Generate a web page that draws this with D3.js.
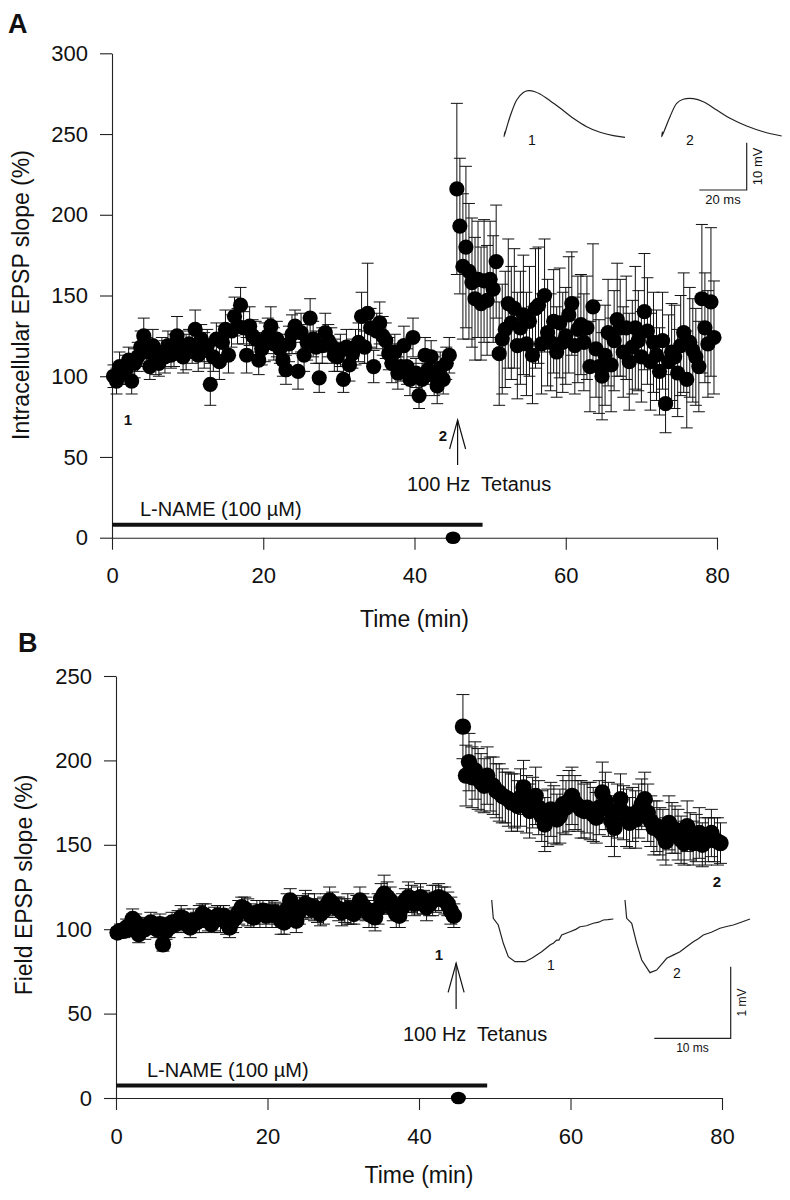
<!DOCTYPE html>
<html><head><meta charset="utf-8">
<script src="https://cdn.jsdelivr.net/npm/d3@7"></script>
<style>
body{margin:0;background:#fff}
svg{display:block}
text{font-family:"Liberation Sans",Arial,Helvetica,sans-serif;fill:#111;white-space:pre}
</style>
</head><body>
<svg id="c" width="790" height="1200"></svg>
<script>
// ---------------- DATA ----------------
const xTicks=[0,20,40,60,80];
const aYTicks=[0,50,100,150,200,250,300];
const bYTicks=[0,50,100,150,200,250];
const sampleStep=0.4;           // minutes between plotted samples
const lnameRange=[0,49];        // L-NAME application (min)

// Panel A: intracellular EPSP slope (%)
const aPreStart=0.2;
const aPreVals=[
100,97,106,102,104,110,97,108,112,118,
125,115,106,119,110,108,115,112,119,113,
116,125,119,112,115,120,118,129,113,123,
116,119,95,112,123,109,121,129,113,128,
137,131,144,130,113,131,125,123,110,117,
121,125,131,120,123,117,110,104,120,126,
131,103,127,113,121,136,123,118,99,119,
127,122,119,113,112,116,98,118,107,114,
118,121,137,118,139,130,106,128,133,125,
122,114,108,115,102,106,119,106,98,124,
102,88,98,113,104,112,100,94,105,98,
108,113];
const aPreErr=[
7,8,9,7,9,8,8,9,9,10,
11,9,8,10,9,8,9,10,9,8,
10,12,9,10,11,9,10,12,10,9,
11,10,13,9,10,11,10,12,11,10,
12,11,11,10,11,12,10,11,9,10,
12,11,12,10,11,9,10,9,11,12,
10,11,12,10,11,12,11,10,9,11,
12,10,11,10,9,10,8,11,10,9,
11,12,15,10,31,12,10,11,13,12,
11,10,12,11,10,9,12,11,10,12,
9,8,10,11,9,10,12,11,10,9,
10,11];
const aPostStart=45.6;
const aPostVals=[
216,193,168,180,165,158,148,160,145,159,
147,160,154,171,114,123,129,145,133,142,
119,130,138,120,134,113,142,144,120,150,
127,121,134,115,133,121,125,138,145,119,
129,132,121,130,106,143,117,106,100,113,
127,107,122,135,130,115,130,109,118,130,
122,112,140,128,109,121,113,103,122,83,
109,115,112,102,119,127,98,121,116,112,
106,148,130,120,146,124];
const aPostErr=[
53,42,45,50,42,40,38,36,35,38,
34,36,33,35,32,34,36,40,35,37,
33,35,37,32,34,30,37,36,31,35,
33,30,32,28,34,31,30,36,32,30,
33,31,30,32,28,39,30,29,27,31,
33,29,31,35,30,28,32,30,29,38,
31,28,36,33,30,31,28,27,30,18,
29,30,32,27,31,37,30,34,32,30,
28,46,34,33,46,35];

// Panel B: field EPSP slope (%)
const bPreStart=0.2;
const bPreVals=[
98,99,99,101,100,106,104,97,101,100,
102,104,102,100,103,91,99,101,104,103,
105,107,106,103,101,105,104,106,109,108,
105,103,106,108,106,108,104,101,105,107,
110,113,112,110,108,107,110,109,111,108,
110,109,110,108,105,104,112,117,110,105,
111,113,115,114,112,113,111,109,111,114,
117,115,113,112,110,111,112,110,109,113,
117,114,112,109,108,107,112,118,121,119,
117,112,109,108,113,117,119,118,115,117,
119,116,113,115,117,118,119,118,117,115,
111,108];
const bPreErr=[
3,4,4,5,4,6,5,5,5,6,
5,6,5,5,6,4,5,6,6,5,
6,7,6,5,6,7,6,8,6,7,
6,5,7,6,8,6,7,6,7,6,
7,6,7,8,7,6,7,8,6,7,
7,8,6,7,8,7,9,7,6,7,
8,7,8,7,6,8,7,7,8,7,
8,7,6,7,8,7,9,7,6,7,
8,7,7,8,7,8,9,9,11,9,
8,7,8,7,8,7,9,8,7,8,
8,7,8,7,9,8,8,7,8,7,
8,7];
const bPostStart=45.8;
const bPostVals=[
220,191,199,190,194,189,187,185,191,186,
185,182,181,179,178,177,175,176,173,178,
184,174,170,175,179,172,167,162,166,171,
168,165,167,174,172,176,179,175,173,171,
170,172,170,168,166,172,181,176,171,164,
160,170,177,169,166,163,168,165,170,174,
177,169,164,160,161,158,156,152,163,160,
159,156,153,151,161,155,151,154,157,150,
152,153,157,153,152,151];
const bPostErr=[
19,18,17,18,17,18,17,16,17,16,
17,16,17,16,15,16,17,16,15,17,
16,17,16,15,17,16,15,16,17,16,
17,15,16,17,16,18,17,16,15,17,
16,15,17,16,15,16,18,17,16,15,
17,16,15,16,17,15,16,17,16,15,
16,17,15,16,15,14,15,14,16,15,
14,15,14,13,15,14,13,14,15,13,
14,13,14,13,14,12];

// Sample traces [ms, mV]
const traceA1=[[0.42,1.18],[0,0.13],[2.53,4.36],[5.36,7.89],[8.02,9.43],[10.25,9.85],[13.08,9.64],[15.19,9.15],[19.41,7.74],[23.63,6.19],[29.24,4.02],[34.89,2.24],[40.51,1.06],[46.12,0.34],[51.05,0]];
const traceA2=[[0.34,1.12],[0,0.06],[3.5,4.29],[6.33,7.12],[9.11,7.97],[13.33,8.10],[17.55,7.46],[23.21,5.71],[28.82,3.95],[35.86,2.33],[42.87,1.12],[50.63,0.21]];
const traceB1=[[0,0],[0.21,-0.256],[0.86,-0.349],[1.52,-0.605],[2.17,-0.792],[3.05,-0.862],[4.36,-0.862],[5.24,-0.814],[6.54,-0.722],[7.63,-0.628],[8.1,-0.60],[8.51,-0.559],[8.8,-0.56],[9.16,-0.489],[10.25,-0.443],[11.0,-0.41],[11.56,-0.373],[12.4,-0.36],[13.30,-0.325],[14.0,-0.31],[14.61,-0.279],[15.2,-0.275],[15.92,-0.265]];
const traceB2=[[0,0],[0.22,-0.256],[0.88,-0.325],[1.53,-0.605],[2.19,-0.838],[3.27,-1.015],[4.15,-0.978],[5.46,-0.814],[6.3,-0.77],[7.20,-0.722],[8.1,-0.65],[8.94,-0.582],[9.6,-0.54],[10.25,-0.489],[11.3,-0.45],[12.43,-0.395],[13.3,-0.37],[14.17,-0.349],[15.2,-0.31],[16.36,-0.265]];

// ---------------- DRAW ----------------
const FONT='"Liberation Sans",Arial,Helvetica,sans-serif';
const svg=d3.select("#c");

function series(start,vals,errs){return vals.map((v,i)=>({t:start+i*sampleStep,v:v,e:errs[i]}));}

function styleAxis(a){
  a.selectAll("path,line").attr("stroke","#222").attr("stroke-width",1.1);
  a.selectAll("text").attr("font-size",22).attr("font-family",FONT).attr("fill","#111");
}

function drawPanel(p){
  const x=d3.scaleLinear().domain([0,80]).range(p.xRange);
  const y=d3.scaleLinear().domain(p.yDomain).range(p.yRange);
  const g=svg.append("g");

  g.append("g").attr("transform",`translate(${x(0)},0)`)
    .call(d3.axisLeft(y).tickValues(p.yTicks).tickSize(12).tickSizeOuter(0).tickPadding(12))
    .call(styleAxis);
  g.append("g").attr("transform",`translate(0,${y(0)})`)
    .call(d3.axisBottom(x).tickValues(xTicks).tickSize(12).tickSizeOuter(0).tickPadding(18))
    .call(styleAxis);

  // letter
  g.append("text").attr("x",p.letterPos[0]).attr("y",p.letterPos[1]).attr("font-size",27).attr("font-weight","bold").text(p.letter);
  // axis titles
  g.append("text").attr("x",(x(0)+x(80))/2).attr("y",p.xTitleY).attr("text-anchor","middle").attr("font-size",23).text("Time (min)");
  g.append("text").attr("transform",`translate(${p.yTitleX},${p.yTitleY}) rotate(-90)`).attr("text-anchor","middle").attr("font-size",23).text(p.yTitle);

  // L-NAME bar
  const barY=y(0)-p.barOffset;
  g.append("line").attr("x1",x(lnameRange[0])).attr("x2",x(lnameRange[1])).attr("y1",barY).attr("y2",barY).attr("stroke","#111").attr("stroke-width",4);
  g.append("text").attr("x",p.lnameLabelX).attr("y",barY-9).attr("font-size",20).text("L-NAME (100 µM)");

  // tetanus dot on the axis
  g.append("ellipse").attr("cx",x(p.dotT)).attr("cy",y(0)).attr("rx",7.5).attr("ry",6.3).attr("fill","#000");

  // arrow
  const ax=x(p.arrowT);
  g.append("line").attr("x1",ax).attr("x2",ax).attr("y1",p.arrowY[1]).attr("y2",p.arrowY[0]).attr("stroke","#111").attr("stroke-width",1.2);
  g.append("path").attr("d",`M${ax-8},${p.arrowY[0]+29}L${ax},${p.arrowY[0]}L${ax+8},${p.arrowY[0]+29}`).attr("fill","none").attr("stroke","#111").attr("stroke-width",1.2);
  g.append("text").attr("x",p.tetLabel[0]).attr("y",p.tetLabel[1]).attr("font-size",20).text("100 Hz  Tetanus");

  // data
  const data=series(p.preStart,p.preVals,p.preErr).concat(series(p.postStart,p.postVals,p.postErr));
  const eb=g.append("g").attr("stroke","#111").attr("stroke-width",1);
  const cw=p.capW/2;
  data.forEach(d=>{
    const cx=x(d.t), y1=y(d.v+d.e), y2=y(d.v-d.e);
    eb.append("line").attr("x1",cx).attr("x2",cx).attr("y1",y1).attr("y2",y2);
    eb.append("line").attr("x1",cx-cw).attr("x2",cx+cw).attr("y1",y1).attr("y2",y1);
    eb.append("line").attr("x1",cx-cw).attr("x2",cx+cw).attr("y1",y2).attr("y2",y2);
  });
  g.append("g").selectAll("circle").data(data).join("circle")
    .attr("cx",d=>x(d.t)).attr("cy",d=>y(d.v)).attr("r",p.markerR).attr("fill","#000");

  // bold sample labels
  p.sampleLabels.forEach(s=>g.append("text").attr("x",s[0]).attr("y",s[1]).attr("font-size",15).attr("font-weight","bold").attr("text-anchor","middle").text(s[2]));

  // inset traces
  const ms=d3.scaleLinear().domain([0,10]).range([0,p.pxPer10ms]);
  const mv=d3.scaleLinear().domain([0,1]).range([0,-p.pxPerMv]);
  const line=d3.line().x(d=>ms(d[0])).y(d=>mv(d[1])).curve(p.curve);
  p.traces.forEach(tr=>{
    g.append("path").attr("transform",`translate(${tr.origin[0]},${tr.origin[1]})`).attr("d",line(tr.pts)).attr("fill","none").attr("stroke","#222").attr("stroke-width",1.2);
    g.append("text").attr("x",tr.label[0]).attr("y",tr.label[1]).attr("font-size",14).attr("text-anchor","middle").text(tr.name);
  });
  // scale bar
  const c=p.barCorner;
  g.append("path").attr("d",`M${c[0]-ms(p.sbMs)},${c[1]}H${c[0]}V${c[1]+mv(p.sbMv)}`).attr("fill","none").attr("stroke","#222").attr("stroke-width",1.2);
  g.append("text").attr("x",c[0]-ms(p.sbMs)/2).attr("y",c[1]+14).attr("text-anchor","middle").attr("font-size",p.sbFont).text(p.sbMs+" ms");
  g.append("text").attr("transform",`translate(${c[0]+15},${c[1]+mv(p.sbMv)/2}) rotate(-90)`).attr("text-anchor","middle").attr("font-size",p.sbFont).text(p.sbMv+" mV");
}

drawPanel({
  letter:"A", letterPos:[8,33],
  xRange:[112,717], yDomain:[0,300], yRange:[537.7,53.3], yTicks:aYTicks,
  xTitleY:627, yTitleX:29, yTitleY:295, yTitle:"Intracellular EPSP slope (%)",
  barOffset:13, lnameLabelX:140,
  dotT:45.1, arrowT:45.7, arrowY:[420,465], tetLabel:[407,491],
  preStart:aPreStart, preVals:aPreVals, preErr:aPreErr,
  postStart:aPostStart, postVals:aPostVals, postErr:aPostErr,
  capW:12, markerR:7.6,
  sampleLabels:[[128,425,"1"],[443,441,"2"]],
  pxPer10ms:23.7, pxPerMv:4.73, curve:d3.curveCatmullRom,
  traces:[{origin:[504,137.3],pts:traceA1,label:[532,145],name:"1"},
          {origin:[661.7,137],pts:traceA2,label:[690,145],name:"2"}],
  barCorner:[746.7,190], sbMs:20, sbMv:10, sbFont:13
});

drawPanel({
  letter:"B", letterPos:[18,652],
  xRange:[116,722], yDomain:[0,250], yRange:[1098,676], yTicks:bYTicks,
  xTitleY:1183, yTitleX:32, yTitleY:885, yTitle:"Field EPSP slope (%)",
  barOffset:12.5, lnameLabelX:147,
  dotT:45.2, arrowT:44.9, arrowY:[963.3,1009], tetLabel:[403,1041],
  preStart:bPreStart, preVals:bPreVals, preErr:bPreErr,
  postStart:bPostStart, postVals:bPostVals, postErr:bPostErr,
  capW:13, markerR:8.2,
  sampleLabels:[[439,960,"1"],[717,887,"2"]],
  pxPer10ms:76.4, pxPerMv:71.6, curve:d3.curveLinear,
  traces:[{origin:[491.7,900],pts:traceB1,label:[551,970],name:"1"},
          {origin:[625,900],pts:traceB2,label:[677,978],name:"2"}],
  barCorner:[730.7,1038.3], sbMs:10, sbMv:1, sbFont:12
});
</script>
</body></html>
